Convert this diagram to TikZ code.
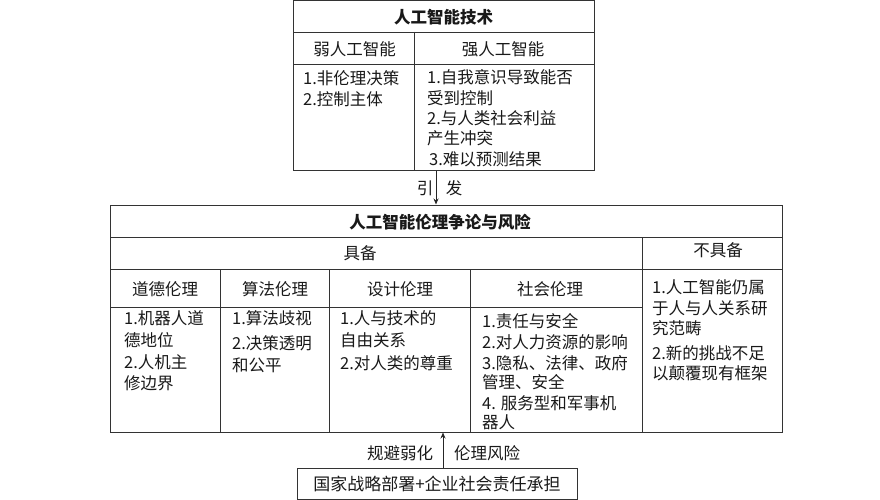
\documentclass[tikz,border=0pt]{standalone}
\usepackage{fontspec}
\setmainfont{Noto Sans CJK SC}
\usetikzlibrary{arrows.meta}
\begin{document}
\begin{tikzpicture}[x=1pt,y=-1pt,
  frame/.style={draw=black!80,line width=1pt,inner sep=0pt},
  sep/.style={draw=black!80,line width=0.9pt},
  txt/.style={inner sep=0pt,font=\fontsize{16.5}{21}\selectfont,text=black!90},
  ttl/.style={inner sep=0pt,font=\fontsize{16.5}{21}\selectfont\bfseries,text=black!90},
  bline/.style={txt,anchor=base west},
  arr/.style={draw=black!85,line width=1pt,-{Stealth[length=6pt,width=5pt]}}]
\useasboundingbox[fill=white] (0,0) rectangle (880,500);

% boxes
\node[frame,minimum width=301pt,minimum height=169pt] (topbox) at (443.5,85.5) {};
\node[frame,minimum width=672pt,minimum height=227pt] (mainbox) at (446,318.5) {};
\node[frame,minimum width=280pt,minimum height=31pt] (botbox) at (437,483.5) {};

% top box grid
\draw[sep] (293,32) -- (594,32);
\draw[sep] (293,64) -- (594,64);
\draw[sep] (414,32) -- (414,170);

% main box grid
\draw[sep] (110,237) -- (782,237);
\draw[sep] (110,269) -- (782,269);
\draw[sep] (110,307) -- (642,307);
\draw[sep] (220,269) -- (220,432);
\draw[sep] (329,269) -- (329,432);
\draw[sep] (470,269) -- (470,432);
\draw[sep] (642,237) -- (642,432);

% arrows
\draw[arr] ([xshift=-7.5pt]topbox.south) -- ([xshift=-7.5pt]topbox.south |- mainbox.north);
\draw[arr] ([xshift=6pt]botbox.north) -- ([xshift=6pt]botbox.north |- mainbox.south);

% top box texts
\node[ttl] (ttop) at (443.5,17) {人工智能技术};
\node[txt] (hweak) at (354.5,49) {弱人工智能};
\node[txt] (hstrong) at (503,49) {强人工智能};
\foreach \t/\yy [count=\i] in {1.非伦理决策/84.3,2.控制主体/105.3}
  \node[bline] (bw-\i) at (303,\yy) {\t};
\foreach \t/\yy [count=\i] in {1.自我意识导致能否/83.3,受到控制/104.3,2.与人类社会利益/124.3,产生冲突/144.3}
  \node[bline] (bs-\i) at (427,\yy) {\t};
\node[bline] (bs-5) at (429,165.3) {3.难以预测结果};

\node[txt] (lyin) at (425,188) {引};
\node[txt] (lfa) at (454,188) {发};

% main box texts
\node[ttl] (tmain) at (440,222) {人工智能伦理争论与风险};
\node[txt] (hhave) at (360,253) {具备};
\node[txt] (hnot) at (718,250) {不具备};
\node[txt] (h1) at (165,289) {道德伦理};
\node[txt] (h2) at (275,289) {算法伦理};
\node[txt] (h3) at (400,289) {设计伦理};
\node[txt] (h4) at (550,289) {社会伦理};

\foreach \t/\yy [count=\i] in {1.机器人道/324.3,德地位/346.3,2.人机主/368.3,修边界/389.3}
  \node[bline] (b1-\i) at (124,\yy) {\t};
\foreach \t/\yy [count=\i] in {1.算法歧视/324.3,2.决策透明/349.3,和公平/371.3}
  \node[bline] (b2-\i) at (232,\yy) {\t};
\foreach \t/\yy [count=\i] in {1.人与技术的/324.3,自由关系/346.3,2.对人类的尊重/369.3}
  \node[bline] (b3-\i) at (340,\yy) {\t};
\foreach \t/\yy [count=\i] in {1.责任与安全/327.3,2.对人力资源的影响/348.3,3.隐私、法律、政府/369.3,管理、安全/388.3,4. 服务型和军事机/409.3,器人/428.3}
  \node[bline] (b4-\i) at (482,\yy) {\t};
\foreach \t/\yy [count=\i] in {1.人工智能仍属/293.3,于人与人关系研/314.3,究范畴/334.3,2.新的挑战不足/359.3,以颠覆现有框架/379.3}
  \node[bline] (b5-\i) at (652,\yy) {\t};

% bottom texts
\node[txt] (lavoid) at (400,453) {规避弱化};
\node[txt] (lrisk) at (487,453) {伦理风险};
\node[txt,font=\fontsize{17}{21}\selectfont] (tbot) at (437,484) {国家战略部署+企业社会责任承担};
\end{tikzpicture}
\end{document}
